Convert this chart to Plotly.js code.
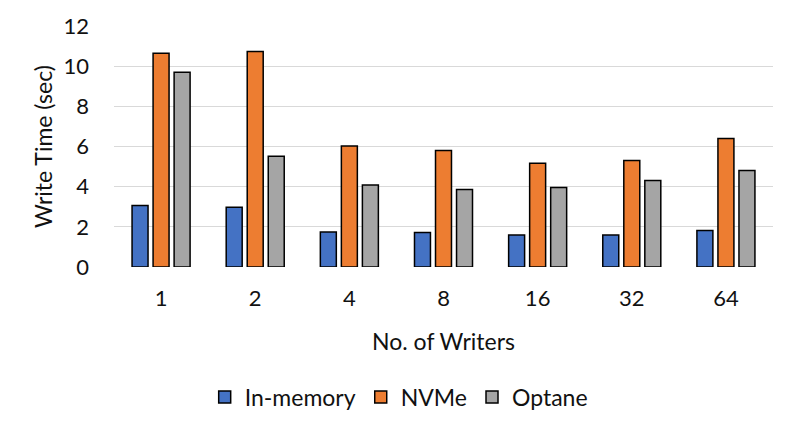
<!DOCTYPE html>
<html><head><meta charset="utf-8">
<script src="https://cdn.plot.ly/plotly-3.0.1.min.js"></script>
<style>body{margin:0;background:#fff}#c{width:793px;height:431px}</style>
</head><body><div id="c"></div>
<script>
const categories = ["1","2","4","8","16","32","64"];
const inMemory = [3.06, 2.98, 1.74, 1.72, 1.59, 1.59, 1.82];
const nvme = [10.64, 10.73, 6.02, 5.80, 5.17, 5.30, 6.40];
const optane = [9.70, 5.52, 4.08, 3.86, 3.96, 4.31, 4.81];
const seriesNames = ["In-memory", "NVMe", "Optane"];
const colors = ["#4472C4", "#ED7D31", "#A5A5A5"];
const series = [inMemory, nvme, optane];
const font = "Lato, Carlito, Calibri, sans-serif";
const data = series.map((v, i) => ({
  type: "bar", x: categories, y: v, name: seriesNames[i],
  marker: {color: colors[i], line: {color: "#000", width: 1.5}},
  hoverinfo: "none"
}));
const layout = {
  width: 793, height: 431,
  margin: {l: 114, r: 20, t: 26, b: 164},
  paper_bgcolor: "#fff", plot_bgcolor: "#fff",
  barmode: "group", bargap: 0.33, bargroupgap: 0.24,
  font: {family: font, size: 22, color: "#111"},
  xaxis: {type: "category", showgrid: false, zeroline: false, showline: false,
    ticks: "", ticklabelstandoff: 16, tickfont: {size: 22},
    title: {text: "No. of Writers", font: {size: 23}, standoff: 23}},
  yaxis: {range: [0, 12], dtick: 2, showgrid: true, gridcolor: "#D9D9D9", gridwidth: 1.3,
    zeroline: false, showline: false, ticks: "", ticklabelstandoff: 24, tickfont: {size: 22},
    title: {text: "Write Time (sec)", font: {size: 23}, standoff: 4}},
  showlegend: true,
  legend: {orientation: "h", x: 0.432, xanchor: "center", y: -0.54, yanchor: "middle",
    font: {size: 23}, itemwidth: 30, traceorder: "normal"}
};
Plotly.newPlot("c", data, layout, {staticPlot: true});
</script></body></html>
